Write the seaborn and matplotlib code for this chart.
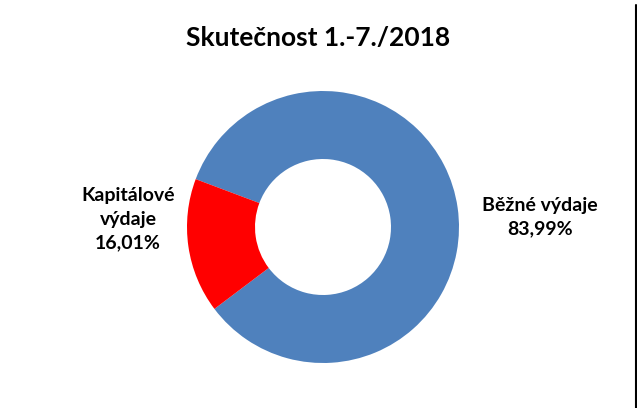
import matplotlib.pyplot as plt
import seaborn as sns
from matplotlib.lines import Line2D

# data
categories = ["Běžné výdaje", "Kapitálové výdaje"]
shares = [83.99, 16.01]
label_texts = ["Běžné výdaje\n83,99%", "Kapitálové\nvýdaje\n16,01%"]
title = "Skutečnost 1.-7./2018"

sns.set_theme(style="white")
plt.rcParams['font.family'] = ['Lato', 'DejaVu Sans']

W, H = 637, 408
fig = plt.figure(figsize=(W / 100, H / 100), dpi=100)
fig.patch.set_facecolor("white")

# donut position in pixels
cx, cy, R = 323, 227, 136
ax = fig.add_axes([(cx - R) / W, (H - cy - R) / H, 2 * R / W, 2 * R / H])

colors = ["#4F81BD", "#FF0000"]
ax.pie(shares, colors=colors, startangle=159.4, counterclock=False,
       radius=1, wedgeprops=dict(width=0.5, linewidth=0))
ax.set_xlim(-1, 1)
ax.set_ylim(-1, 1)
ax.set_aspect("equal")
ax.axis("off")

# labels
fig.text(540 / W, 1 - 217 / H, label_texts[0], ha="center", va="center",
         fontsize=14, fontweight="bold", color="black", linespacing=1.45)
fig.text(128 / W, 1 - 219 / H, label_texts[1], ha="center", va="center",
         fontsize=14, fontweight="bold", color="black", linespacing=1.45)

fig.text(318 / W, 1 - 38 / H, title, ha="center", va="center",
         fontsize=19, fontweight="bold", color="black")

# right border of the chart area
fig.add_artist(Line2D([635.5 / W, 635.5 / W], [0, 1 - 5 / H],
                      transform=fig.transFigure, color="black", linewidth=1.5))

fig.savefig("out.png", dpi=100)
